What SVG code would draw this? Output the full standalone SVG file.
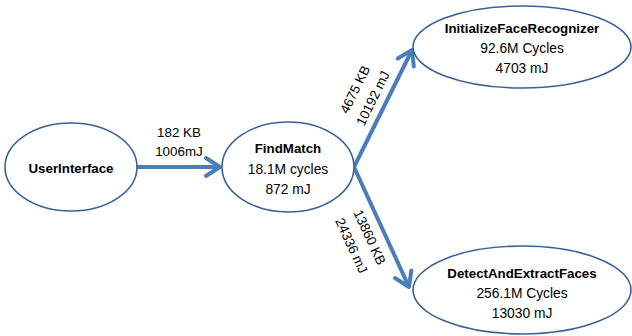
<svg xmlns="http://www.w3.org/2000/svg" width="632" height="336" viewBox="0 0 632 336">
<defs>
<style>
.node{fill:#ffffff;stroke:#3b6294;stroke-width:1.6}
.edge{fill:none;stroke:#4a7ebb;stroke-width:4}
text{font-family:"Liberation Sans",Arial,sans-serif;font-size:13.8px;fill:#000000;text-anchor:middle}
.b{font-weight:bold;font-size:13.3px}
.e{font-size:13.4px}
</style>
<marker id="arr" markerUnits="userSpaceOnUse" viewBox="-18 -12 22 24" markerWidth="22" markerHeight="24" refX="0" refY="0" orient="auto">
<path d="M-14,-9 L0,0 L-14,9" fill="none" stroke="#4a7ebb" stroke-width="4" stroke-linecap="round" stroke-linejoin="round"/>
</marker>
</defs>
<rect width="632" height="336" fill="#ffffff"/>
<g id="connectors">
<line class="edge" x1="137" y1="167" x2="220" y2="167" marker-end="url(#arr)"/>
<line class="edge" x1="354" y1="167" x2="412" y2="50" marker-end="url(#arr)"/>
<line class="edge" x1="354" y1="167" x2="409" y2="287" marker-end="url(#arr)"/>
<text class="e" x="179" y="137">182 KB</text>
<text class="e" x="179" y="156">1006mJ</text>
<g transform="translate(364,94) rotate(-63.6)">
<text class="e" x="0" y="-5.5">4675 KB</text>
<text class="e" x="0" y="14.5">10192 mJ</text>
</g>
<g transform="translate(360.5,241.5) rotate(65.3)">
<text class="e" x="0" y="-5.5">13860 KB</text>
<text class="e" x="0" y="14.5">24336 mJ</text>
</g>
</g>
<g id="UserInterface">
<ellipse class="node" cx="71" cy="167" rx="66" ry="44"/>
<text class="b" x="71" y="173">UserInterface</text>
</g>
<g id="FindMatch">
<ellipse class="node" cx="288" cy="167" rx="66" ry="45"/>
<text class="b" x="288" y="153">FindMatch</text>
<text x="288" y="174">18.1M cycles</text>
<text x="288" y="194">872 mJ</text>
</g>
<g id="InitializeFaceRecognizer">
<ellipse class="node" cx="522" cy="47" rx="109" ry="41"/>
<text class="b" x="522" y="33">InitializeFaceRecognizer</text>
<text x="522" y="53">92.6M Cycles</text>
<text x="522" y="73">4703 mJ</text>
</g>
<g id="DetectAndExtractFaces">
<ellipse class="node" cx="522" cy="290" rx="109" ry="44"/>
<text class="b" x="522" y="278">DetectAndExtractFaces</text>
<text x="522" y="298">256.1M Cycles</text>
<text x="522" y="318">13030 mJ</text>
</g>
</svg>
